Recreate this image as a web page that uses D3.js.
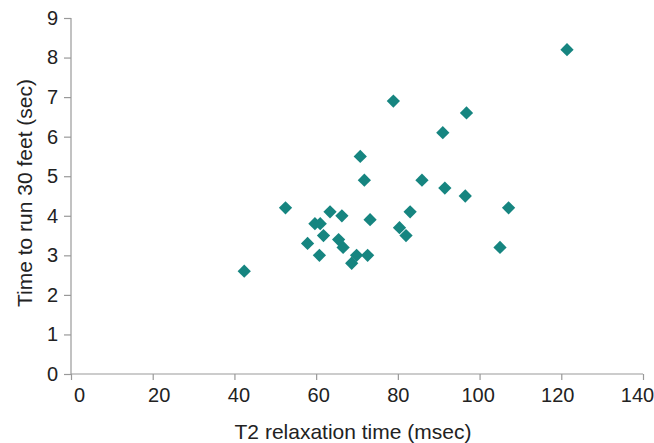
<!DOCTYPE html>
<html>
<head>
<meta charset="utf-8">
<script src="https://cdn.jsdelivr.net/npm/d3@7"></script>
<style>
  body { margin: 0; background: #fff; }
  svg text { font-family: "Liberation Sans", Arial, sans-serif; fill: #222; }
</style>
</head>
<body>
<div id="chart"></div>
<script>
////////////////////////////////////////////////////////////////
// Data

let t2Times = [42.4, 52.5, 57.9, 59.7, 61.0, 60.8, 61.8, 63.4, 65.5, 66.3, 66.6,
  68.7, 69.9, 70.8, 71.8, 72.6, 73.2, 78.9, 80.4, 82.0, 83.0, 85.9, 91.0,
  91.5, 96.5, 96.8, 105.0, 107.1, 121.4]
let runTimes = [2.6, 4.2, 3.3, 3.8, 3.8, 3.0, 3.5, 4.1, 3.4, 4.0, 3.2,
  2.8, 3.0, 5.5, 4.9, 3.0, 3.9, 6.9, 3.7, 3.5, 4.1, 4.9, 6.1,
  4.7, 4.5, 6.6, 3.2, 4.2, 8.2]

let xTicks = [0, 20, 40, 60, 80, 100, 120, 140]
let yTicks = [0, 1, 2, 3, 4, 5, 6, 7, 8, 9]

////////////////////////////////////////////////////////////////
// Build the scatter plot

function scatterPlot() {
  let width = 654, height = 443
  let margin = {left: 71, right: 11, top: 18, bottom: 69}

  let svg = d3.select("#chart").append("svg")
    .attr("width", width)
    .attr("height", height)

  let x = d3.scaleLinear()
    .domain([0, 140])
    .range([margin.left, width - margin.right])

  let y = d3.scaleLinear()
    .domain([0, 9])
    .range([height - margin.bottom, margin.top])

  let points = t2Times.map((t, i) => [t, runTimes[i]])

  // axes
  let xAxis = svg.append("g")
    .attr("transform", "translate(0," + y(0) + ")")
    .call(d3.axisBottom(x).tickValues(xTicks).tickSize(6).tickPadding(8))

  let yAxis = svg.append("g")
    .attr("transform", "translate(" + x(0) + ",0)")
    .call(d3.axisLeft(y).tickValues(yTicks).tickSize(7).tickPadding(6))

  svg.selectAll(".domain, .tick line")
    .attr("stroke", "#999")
    .attr("stroke-width", 1.2)

  // drop the outer end caps on the domain lines
  xAxis.select(".domain").attr("d", "M" + x(0) + ",0H" + x(140))
  yAxis.select(".domain").attr("d", "M0," + y(0) + "V" + y(9))

  svg.selectAll(".tick text")
    .attr("font-size", 20)
    .attr("fill", "#222")

  // the reference labels sit a little inward of their ticks at the ends
  xAxis.selectAll(".tick text")
    .attr("dx", (d, i) => 8 - i * 2)

  // diamond markers
  svg.selectAll("path.pt")
    .data(points)
    .enter()
    .append("path")
    .attr("class", "pt")
    .attr("d", d3.symbol(d3.symbolSquare, 88)())
    .attr("transform", d => "translate(" + x(d[0]) + "," + y(d[1]) + ") rotate(45)")
    .attr("fill", "#168580")

  // axis titles
  svg.append("text")
    .attr("x", 353)
    .attr("y", 439)
    .attr("text-anchor", "middle")
    .attr("font-size", 21)
    .text("T2 relaxation time (msec)")

  svg.append("text")
    .attr("transform", "translate(32,193) rotate(-90)")
    .attr("text-anchor", "middle")
    .attr("font-size", 21)
    .text("Time to run 30 feet (sec)")
}

scatterPlot()
</script>
</body>
</html>
